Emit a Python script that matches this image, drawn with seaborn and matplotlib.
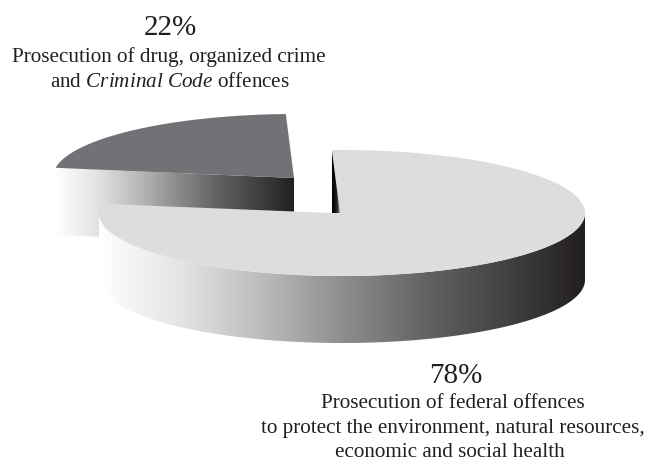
import numpy as np
import matplotlib
matplotlib.use("Agg")
import matplotlib.pyplot as plt
from matplotlib.patches import Polygon
import seaborn as sns

# ------------- data
shares = [78, 22]
pct_labels = ["78%", "22%"]
big_lines = ["Prosecution of federal offences",
             "to protect the environment, natural resources,",
             "economic and social health"]
small_lines = ["Prosecution of drug, organized crime",
               r"and $\mathit{Criminal\ Code}$ offences"]

top_big = "#dcddde"
top_small = "#717275"
ramp_stops = ["#ffffff", "#e4e4e4", "#bdbcbb", "#8f8e8e", "#666463", "#444242", "#231f20"]

# ------------- geometry of the tilted pie (in pixels of the picture)
a, b, depth = 243, 63, 67
big_c = (342, 213)
big_apex = (332, 213)
small_c = (296, 177)
small_apex = (294, 178)
start = 92.4  # angle of the cut at the top, going clockwise

sns.set_theme(style="white")
plt.rcParams["font.family"] = ["Liberation Serif", "DejaVu Serif"]
plt.rcParams["mathtext.fontset"] = "custom"
plt.rcParams["mathtext.rm"] = "Liberation Serif"
plt.rcParams["mathtext.it"] = "Liberation Serif:italic"

ramp = sns.blend_palette(ramp_stops, n_colors=256, as_cmap=True)
fade = np.linspace(0, 1, 256)[None, :]


def arc(c, t0, t1, n=200):
    t = np.radians(np.linspace(t0, t1, n))
    return np.column_stack([c[0] + a * np.cos(t), c[1] - b * np.sin(t)])


def gradient(ax, pts, cmap, zorder):
    pts = np.asarray(pts)
    im = ax.imshow(fade, cmap=cmap, aspect="auto", zorder=zorder,
                   extent=[pts[:, 0].min(), pts[:, 0].max(), pts[:, 1].max(), pts[:, 1].min()])
    clip = Polygon(pts, closed=True, transform=ax.transData)
    im.set_clip_path(clip)


fig = plt.figure(figsize=(6.5, 4.62), dpi=100)
ax = fig.add_axes([0, 0, 1, 1])

sweep_big = 360 * shares[0] / sum(shares)
sweep_small = 360 * shares[1] / sum(shares)
end_big = start - sweep_big          # left end of the large slice
left_small = start + sweep_small     # left end of the small slice

# small slice: front wall then top
p_left = arc(small_c, left_small, left_small, 1)[0]
wall = [p_left, small_apex, (small_apex[0], small_apex[1] + depth), (p_left[0], p_left[1] + depth)]
gradient(ax, wall, ramp, 1)
ax.add_patch(Polygon(np.vstack([arc(small_c, left_small, start), [small_apex]]),
                     closed=True, fc=top_small, ec="none", zorder=2))

# large slice: outer wall then top
rim = arc(big_c, 180, 360)
gradient(ax, np.vstack([rim, (rim + [0, depth])[::-1]]), ramp, 3)
ax.add_patch(Polygon(np.vstack([arc(big_c, start, end_big, 400), [big_apex]]),
                     closed=True, fc=top_big, ec="none", zorder=4))

# the thin dark face at the cut
cut_top = arc(big_c, start, start, 1)[0]
sliver = [cut_top, big_apex, (big_apex[0] + 8, big_apex[1])]
gradient(ax, sliver, sns.blend_palette(["#000000", "#1a1a1a", "#b5b6b7"], n_colors=64, as_cmap=True), 5)

ax.set_xlim(0, 650)
ax.set_ylim(462, 0)
ax.axis("off")

# ------------- text
ax.text(170, 35, pct_labels[1], ha="center", va="baseline", fontsize=21, color="#231f20")
for x, y, line in zip([168.5, 170], [62, 87], small_lines):
    ax.text(x, y, line, ha="center", va="baseline", fontsize=15.2, color="#231f20")
ax.text(456, 383, pct_labels[0], ha="center", va="baseline", fontsize=21, color="#231f20")
for x, y, line in zip([453, 452.5, 450], [408, 433, 457], big_lines):
    ax.text(x, y, line, ha="center", va="baseline", fontsize=15.2, color="#231f20")

fig.savefig("out.png", dpi=100)
